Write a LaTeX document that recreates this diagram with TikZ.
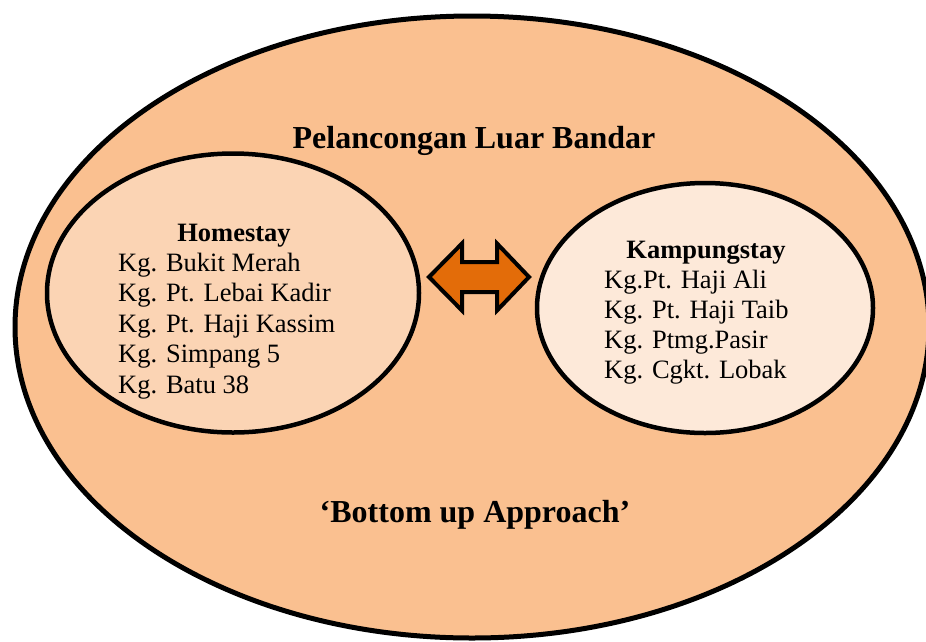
\documentclass[tikz,border=0pt]{standalone}
\usepackage{fontspec}
\setmainfont{Liberation Serif}
\usepackage{tikz}
\usetikzlibrary{shapes}
\definecolor{outerfill}{HTML}{FAC090}
\definecolor{homefill}{HTML}{FBD4B4}
\definecolor{kampfill}{HTML}{FDE9D9}
\definecolor{arrowfill}{HTML}{E36C09}
\tikzstyle{region} = [ellipse, draw, line width=5pt, fill=outerfill, inner sep=0pt]
\tikzstyle{stay} = [ellipse, draw, line width=4.5pt, inner sep=0pt]
\tikzstyle{heading} = [font=\fontsize{32}{36}\selectfont\bfseries, inner sep=0pt, anchor=base]
\tikzstyle{subhead} = [font=\fontsize{26.5}{30.5}\selectfont\bfseries, inner sep=0pt, anchor=base]
\tikzstyle{village} = [font=\fontsize{26.5}{30.5}\selectfont, inner sep=0pt, anchor=base west]
\tikzstyle{swap} = [draw, line width=4pt, fill=arrowfill, line join=miter]

\begin{document}
\begin{tikzpicture}[x=1pt,y=-1pt]
    \useasboundingbox (0,0) rectangle (926,641);
    \clip (0,0) rectangle (926,641);
    % Place nodes
    \node [region, minimum width=914pt, minimum height=622pt] (rural) at (472,327) {};
    \node [stay, fill=homefill, minimum width=372pt, minimum height=279pt] (home) at (233,293) {};
    \node [stay, fill=kampfill, minimum width=336pt, minimum height=250pt] (kamp) at (705,308) {};
    \node [heading] (title) at (474,148) {Pelancongan Luar Bandar};
    \node [heading] (approach) at (475,522) {‘Bottom up Approach’};
    \node [subhead] (homehead) at (234,241) {Homestay};
    \node [subhead] (kamphead) at (706,258) {Kampungstay};
    \foreach \name [count=\i] in {Kg. Bukit Merah, Kg. Pt. Lebai Kadir, Kg. Pt. Haji Kassim, Kg. Simpang 5, Kg. Batu 38}
        \node [village] (home\i) at (118,240.5+30.5*\i) {\name};
    \foreach \name [count=\i] in {Kg.Pt. Haji Ali, Kg. Pt. Haji Taib, Kg. Ptmg.Pasir, Kg. Cgkt. Lobak}
        \node [village] (kamp\i) at (604,258+30*\i) {\name};

    % two way arrow
    \coordinate (mid) at (479,277);
    \draw [swap] (mid) ++(-50,0) -- ++(33,-33.5) -- ++(0,18.5) -- ++(35,0) -- ++(0,-18.5)
        -- ++(32,33.5) -- ++(-32,33.5) -- ++(0,-18.5) -- ++(-35,0) -- ++(0,18.5) -- cycle;
\end{tikzpicture}
\end{document}
